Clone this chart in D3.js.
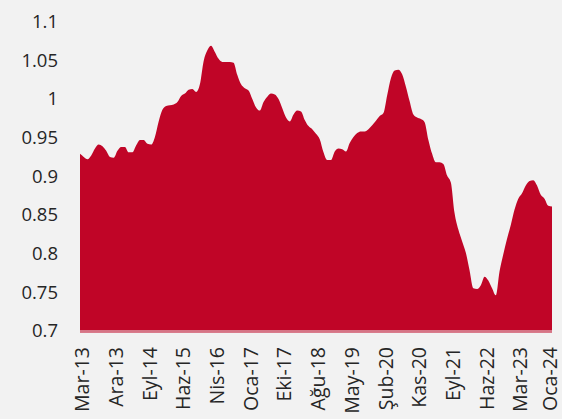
<!DOCTYPE html>
<html>
<head>
<meta charset="utf-8">
<script src="https://cdn.jsdelivr.net/npm/d3@7"></script>
<style>
  html, body { margin: 0; padding: 0; background: #f2f2f2; }
  svg { display: block; }
  text { font-family: "Open Sans", "Noto Sans", sans-serif; fill: #262626; }
</style>
</head>
<body>
<svg id="chart" width="562" height="419"></svg>
<script>
const categories = [
  "Mar-13","Nis-13","May-13","Haz-13","Tem-13","Ağu-13","Eyl-13","Eki-13","Kas-13",
  "Ara-13","Oca-14","Şub-14","Mar-14","Nis-14","May-14","Haz-14","Tem-14","Ağu-14",
  "Eyl-14","Eki-14","Kas-14","Ara-14","Oca-15","Şub-15","Mar-15","Nis-15","May-15",
  "Haz-15","Tem-15","Ağu-15","Eyl-15","Eki-15","Kas-15","Ara-15","Şub-16","Mar-16",
  "Nis-16","May-16","Haz-16","Tem-16","Ağu-16","Eyl-16","Eki-16","Kas-16","Ara-16",
  "Oca-17","Şub-17","Mar-17","Nis-17","May-17","Haz-17","Tem-17","Ağu-17","Eyl-17",
  "Eki-17","Kas-17","Ara-17","Şub-18","Mar-18","Nis-18","May-18","Haz-18","Tem-18",
  "Ağu-18","Eyl-18","Eki-18","Kas-18","Ara-18","Oca-19","Şub-19","Mar-19","Nis-19",
  "May-19","Haz-19","Tem-19","Ağu-19","Eyl-19","Eki-19","Kas-19","Ara-19","Oca-20",
  "Şub-20","Mar-20","Nis-20","May-20","Haz-20","Tem-20","Ağu-20","Eyl-20","Eki-20",
  "Kas-20","Ara-20","Şub-21","Mar-21","Nis-21","May-21","Haz-21","Tem-21","Ağu-21",
  "Eyl-21","Eki-21","Kas-21","Ara-21","Oca-22","Şub-22","Mar-22","Nis-22","May-22",
  "Haz-22","Tem-22","Ağu-22","Eyl-22","Eki-22","Kas-22","Ara-22","Oca-23","Şub-23",
  "Mar-23","Nis-23","May-23","Haz-23","Tem-23","Ağu-23","Eyl-23","Eki-23","Ara-23",
  "Oca-24"
];

const values = [
  0.928,0.924,0.921,0.926,0.935,0.940,0.938,0.932,0.924,
  0.923,0.932,0.937,0.937,0.930,0.930,0.939,0.946,0.946,
  0.941,0.940,0.950,0.970,0.985,0.990,0.991,0.992,0.995,
  1.003,1.006,1.011,1.012,1.008,1.018,1.048,1.062,1.068,
  1.060,1.051,1.047,1.047,1.047,1.046,1.030,1.018,1.013,
  1.010,0.999,0.988,0.984,0.995,1.002,1.006,1.005,0.999,
  0.987,0.975,0.970,0.979,0.984,0.983,0.972,0.964,0.960,
  0.954,0.947,0.930,0.920,0.920,0.931,0.935,0.934,0.931,
  0.942,0.950,0.955,0.957,0.957,0.960,0.965,0.971,0.977,
  0.981,1.004,1.026,1.036,1.037,1.031,1.015,0.996,0.979,
  0.975,0.973,0.969,0.946,0.928,0.917,0.917,0.915,0.900,
  0.891,0.851,0.830,0.815,0.800,0.777,0.754,0.753,0.758,
  0.769,0.764,0.754,0.745,0.776,0.798,0.818,0.836,0.856,
  0.870,0.877,0.887,0.893,0.894,0.887,0.875,0.870,0.861,
  0.860
];

const tickLabels = ["Mar-13","Ara-13","Eyl-14","Haz-15","Nis-16","Oca-17","Eki-17","Ağu-18",
  "May-19","Şub-20","Kas-20","Eyl-21","Haz-22","Mar-23","Oca-24"];
const yTicks = [0.7, 0.75, 0.8, 0.85, 0.9, 0.95, 1, 1.05, 1.1];

const data = categories.map((c, i) => ({ c, v: values[i] }));

const svg = d3.select("#chart");
const plotLeft = 80, plotRight = 552, plotTop = 21, plotBottom = 330;

const x = d3.scalePoint().domain(categories).range([plotLeft, plotRight]);
const y = d3.scaleLinear().domain([0.7, 1.1]).range([plotBottom, plotTop]);

const area = d3.area()
  .x(d => x(d.c))
  .y0(plotBottom + 2.5)
  .y1(d => y(d.v))
  .curve(d3.curveMonotoneX);

svg.append("path")
  .datum(data)
  .attr("d", area)
  .attr("fill", "#c00527");

// baseline axis line
svg.append("line")
  .attr("x1", plotLeft).attr("x2", plotRight)
  .attr("y1", plotBottom + 1).attr("y2", plotBottom + 1)
  .attr("stroke", "#ece6e6").attr("stroke-width", 1);

// Y axis
const yAxis = svg.append("g")
  .attr("transform", `translate(${plotLeft},0)`)
  .call(d3.axisLeft(y).tickValues(yTicks).tickSize(0).tickPadding(22).tickFormat(d => String(d)));
yAxis.select(".domain").remove();
yAxis.selectAll("text")
  .attr("font-size", 18.5)
  .attr("dy", "0.36em")
  .style("fill", "#262626");

// X axis
const lastLabel = tickLabels[tickLabels.length - 1];
const xAxis = svg.append("g")
  .attr("transform", `translate(0,${plotBottom + 1})`)
  .call(d3.axisBottom(x).tickValues(tickLabels).tickSize(0));
xAxis.select(".domain").remove();
xAxis.selectAll("text")
  .attr("font-size", 19.5)
  .attr("x", 0).attr("y", 0).attr("dy", 0)
  .attr("text-anchor", "end")
  .attr("transform", d => `translate(${d === lastLabel ? 4 : 8.6},16) rotate(-90)`)
  .style("fill", "#262626");
</script>
</body>
</html>
